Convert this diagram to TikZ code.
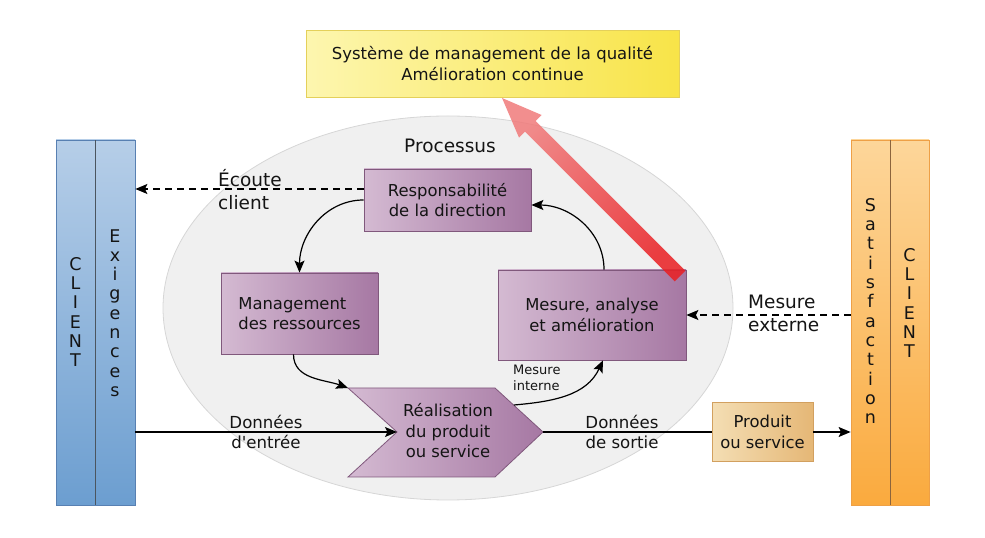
\documentclass[tikz,border=0pt]{standalone}
\usepackage{fontspec}
\setmainfont{DejaVu Sans}
\newfontfamily\plainap{DejaVu Sans}
\usetikzlibrary{arrows.meta}
\definecolor{txt}{RGB}{20,20,20}
\definecolor{purL}{RGB}{212,186,210}
\definecolor{purR}{RGB}{166,120,163}
\definecolor{purB}{RGB}{128,88,124}
\definecolor{bluT}{RGB}{182,206,232}
\definecolor{bluB}{RGB}{108,158,208}
\definecolor{bluD}{RGB}{88,128,178}
\definecolor{orT}{RGB}{253,214,154}
\definecolor{orB}{RGB}{250,170,62}
\definecolor{orD}{RGB}{238,160,70}
\definecolor{prL}{RGB}{244,222,180}
\definecolor{prR}{RGB}{229,183,118}
\definecolor{prD}{RGB}{210,160,95}
\definecolor{yeL}{RGB}{253,246,175}
\definecolor{yeR}{RGB}{248,228,72}
\definecolor{yeD}{RGB}{228,208,90}
\definecolor{ellF}{RGB}{240,240,240}
\definecolor{ellD}{RGB}{214,214,214}
\definecolor{redL}{RGB}{240,122,122}
\definecolor{redD}{RGB}{234,30,34}
\definecolor{divD}{RGB}{75,85,95}
\definecolor{divO}{RGB}{140,100,60}
\tikzset{
  box/.style={draw=purB, line width=0.8pt, left color=purL, right color=purR, text=txt,
    font=\fontsize{16.4}{20.5}\selectfont, align=center, inner sep=0pt},
  lbl/.style={text=txt, font=\fontsize{18.5}{23}\selectfont, inner sep=0pt},
  datalbl/.style={text=txt, font=\fontsize{16.6}{20}\selectfont, inner sep=0pt, align=center},
  smalllbl/.style={text=txt, font=\fontsize{13}{16.5}\selectfont, inner sep=0pt, align=left},
  vert/.style={text=txt, font=\fontsize{17.5}{19.3}\selectfont, align=center, inner sep=0pt},
  conn/.style={line width=1.2pt, draw=black, -{Stealth[length=12pt,width=10pt,inset=2.5pt]}},
  dconn/.style={conn, dash pattern=on 7pt off 5pt},
}
\begin{document}
\begin{tikzpicture}[x=1pt,y=1pt]
\useasboundingbox (0,0) rectangle (985,538);
% ellipse
\path[fill=ellF, draw=ellD, line width=0.8pt] (448,230) ellipse [x radius=285, y radius=192];
\node[lbl] (proc) at (450,392) {Processus};
% top box
\node[draw=yeD, line width=0.8pt, left color=yeL, right color=yeR, minimum width=373pt, minimum height=67pt,
  text=txt, font=\fontsize{16.5}{21}\selectfont, align=center, inner sep=0pt] (sys) at (492.5,474)
  {Système de management de la qualité\\Amélioration continue};
% side bars
\node[draw=bluD, line width=0.8pt, top color=bluT, bottom color=bluB, minimum width=79pt, minimum height=365pt, inner sep=0pt] (barL) at (95.5,215.5) {};
\draw[divD, line width=1pt] (95,33) -- (95,398);
\node[vert] (cliL) at (75.5,226) {C\\L\\I\\E\\N\\T};
\node[vert] (exig) at (115,225) {E\\x\\i\\g\\e\\n\\c\\e\\s};
\node[draw=orD, line width=0.8pt, top color=orT, bottom color=orB, minimum width=78pt, minimum height=365pt, inner sep=0pt] (barR) at (890,215.5) {};
\draw[divO, line width=1pt] (890,33) -- (890,398);
\node[vert] (satis) at (870.5,227) {S\\a\\t\\i\\s\\f\\a\\c\\t\\i\\o\\n};
\node[vert] (cliR) at (909.5,235) {C\\L\\I\\E\\N\\T};
% process boxes
\node[box, minimum width=167pt, minimum height=62pt] (resp) at (447.5,338) {Responsabilité\\de la direction};
\node[box, minimum width=157pt, minimum height=81pt, align=left] (mgmt) at (299.5,224.5) {Management\\des ressources};
\node[box, minimum width=188pt, minimum height=90pt] (mes) at (592,223) {Mesure, analyse\\et amélioration};
% chevron
\coordinate (chTL) at (348,150);
\coordinate (chTR) at (495,150);
\coordinate (chTip) at (543,106);
\coordinate (chBR) at (495,61);
\coordinate (chBL) at (348,61);
\coordinate (chNotch) at (397,106);
\coordinate (chEdge) at (514,133);
\path[draw=purB, line width=0.8pt, left color=purL, right color=purR]
  (chTL) -- (chTR) -- (chTip) -- (chBR) -- (chBL) -- (chNotch) -- cycle;
\node[text=txt, font=\fontsize{16.4}{20.5}\selectfont, align=center, inner sep=0pt] (real) at (448,107)
  {Réalisation\\du produit\\ou service};
% product box
\node[draw=prD, line width=0.8pt, left color=prL, right color=prR, minimum width=101pt, minimum height=59pt,
  text=txt, font=\fontsize{16.4}{20.5}\selectfont, align=center, inner sep=0pt] (prod) at (762.5,106) {Produit\\ou service};
% labels
\node[lbl, align=left, anchor=west] (ecoute) at (218,348) {Écoute\\client};
\node[lbl, align=left, anchor=west] (mext) at (748,224.5) {Mesure\\externe};
\node[datalbl] (din) at (266,106) {Données\\d{\plainap '}entrée};
\node[datalbl] (dout) at (622,106) {Données\\de sortie};
\node[smalllbl, anchor=west] (mint) at (513,160) {Mesure\\interne};
% connectors
\coordinate (ecS) at ([yshift=11pt]resp.west);
\draw[dconn] (ecS) -- (ecS -| barL.east);
\draw[dconn] (barR.west |- mes.east) -- (mes.east);
\draw[conn] (barL.east |- chNotch) -- (chNotch);
\draw[line width=1.2pt] (chTip) -- (prod.west);
\draw[conn] (prod.east) -- (prod.east -| barR.west);
\draw[conn] (resp.west) to[out=180,in=90] (mgmt.north);
\draw[conn] ([xshift=-6pt]mgmt.south) to[out=-90,in=160] (chTL);
\draw[conn] (chEdge) to[out=5,in=-115] ([xshift=11pt]mes.south);
\draw[conn] ([xshift=12pt]mes.north) to[out=90,in=0] ([yshift=-5pt]resp.east);
% big red arrow
\path[top color=redL, bottom color=redD, shading angle=45, fill opacity=0.85]
  (685.3,267.3) -- (535.6,417) -- (541.6,423) -- (502,440) -- (519,400.4) -- (525,406.4) -- (674.7,256.7) -- cycle;
\end{tikzpicture}
\end{document}
